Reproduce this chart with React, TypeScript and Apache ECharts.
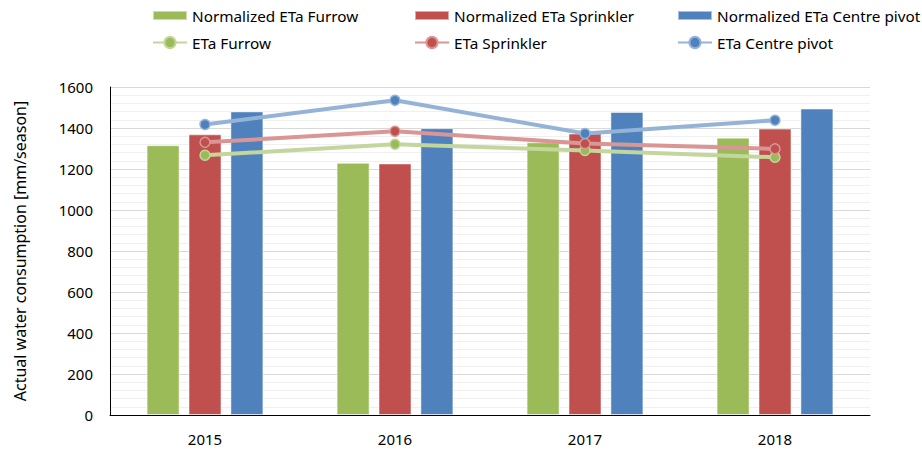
import React, { useEffect, useRef } from "react";
import * as echarts from "echarts";

const years = ["2015", "2016", "2017", "2018"];
const normFurrow = [1316, 1230, 1330, 1353];
const normSprinkler = [1369, 1227, 1373, 1397];
const normPivot = [1481, 1399, 1478, 1495];
const etaFurrow = [1267, 1321, 1290, 1257];
const etaSprinkler = [1330, 1384, 1324, 1298];
const etaPivot = [1417, 1535, 1373, 1438];

const FONT = "Noto Sans";

export default function App() {
  const ref = useRef<HTMLDivElement>(null);
  useEffect(() => {
    document.body.style.margin = "0";
    const chart = echarts.init(ref.current!, null, { renderer: "svg" });
    const barColors = ["#9bbb59", "#c0504d", "#4f81bd"];
    const lineColors = ["#c3d69b", "#d99694", "#95b3d7"];
    const barNames = ["Normalized ETa Furrow", "Normalized ETa Sprinkler", "Normalized ETa Centre pivot"];
    const lineNames = ["ETa Furrow", "ETa Sprinkler", "ETa Centre pivot"];
    const barData = [normFurrow, normSprinkler, normPivot];
    const lineData = [etaFurrow, etaSprinkler, etaPivot];
    const colX = [152, 414, 677];
    const legends: any[] = [];
    barNames.forEach((n, i) => {
      legends.push({
        data: [n], left: colX[i], top: 8, icon: "rect", itemWidth: 34, itemHeight: 9,
        textStyle: { fontFamily: FONT, fontSize: 15.3, color: "#000" }, padding: 0,
      });
    });
    lineNames.forEach((n, i) => {
      legends.push({
        data: [n], left: colX[i], top: 35, itemWidth: 34, itemHeight: 14,
        textStyle: { fontFamily: FONT, fontSize: 15.3, color: "#000" }, padding: 0,
      });
    });
    const series: any[] = [];
    barNames.forEach((n, i) => {
      series.push({
        name: n, type: "bar", data: barData[i], barWidth: 33, barGap: "27%",
        itemStyle: { color: barColors[i], borderColor: "rgba(255,255,255,0.5)", borderWidth: 1 },
      });
    });
    lineNames.forEach((n, i) => {
      series.push({
        name: n, type: "line", data: lineData[i], symbol: "circle", symbolSize: 10,
        lineStyle: { color: lineColors[i], width: 4 },
        itemStyle: { color: barColors[i], borderColor: lineColors[i], borderWidth: 1.5 },
        z: 5,
      });
    });
    chart.setOption({
      animation: false,
      textStyle: { fontFamily: FONT },
      legend: legends,
      grid: { left: 110, right: 52, top: 87, bottom: 34, containLabel: false },
      xAxis: {
        type: "category", data: years,
        axisLine: { lineStyle: { color: "#000", width: 1 } },
        axisTick: { show: false },
        axisLabel: { fontFamily: FONT, fontSize: 15, color: "#000", margin: 16 },
      },
      yAxis: {
        type: "value", min: 0, max: 1600, interval: 200,
        name: "Actual water consumption [mm/season]", nameLocation: "middle", nameGap: 82,
        nameTextStyle: { fontFamily: FONT, fontSize: 16, color: "#000" },
        axisLine: { show: true, lineStyle: { color: "#000", width: 1 } },
        axisTick: { show: false },
        axisLabel: { fontFamily: FONT, fontSize: 15, color: "#000", margin: 17, formatter: (v: number) => String(v) },
        splitLine: { lineStyle: { color: "#d9d9d9", width: 1 } },
        minorTick: { show: false, splitNumber: 5 },
        minorSplitLine: { show: true, lineStyle: { color: "#f0f0f0", width: 1 } },
      },
      series,
    });
    return () => chart.dispose();
  }, []);
  return <div ref={ref} style={{ width: 922, height: 449 }} />;
}
